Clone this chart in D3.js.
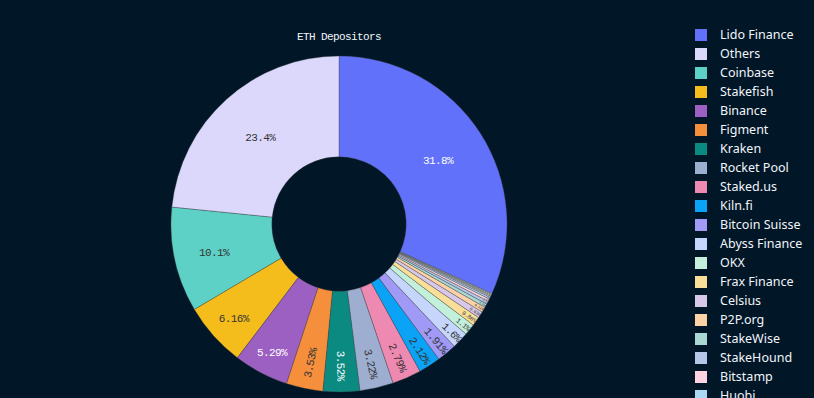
<!DOCTYPE html>
<html lang="en">
<head>
  <meta charset="UTF-8">
  <title>ETH Depositors</title>
  <script src="https://d3js.org/d3.v7.min.js"></script>
  <style>
    body {
      margin: 0;
      padding: 0;
      background-color: #011627;
    }
    .pct {
      font-family: "Liberation Mono", "DejaVu Sans Mono", monospace;
      font-size: 11px;
      letter-spacing: -0.6px;
    }
    .legend text {
      font-family: "Noto Sans", "Open Sans", sans-serif;
      font-size: 12.5px;
      fill: #f2f5fa;
    }
  </style>
</head>
<body>
  <script>
    // depositor share of ETH staked, in percent
    const labels = ["Lido Finance", "Others", "Coinbase", "Stakefish", "Binance", "Figment", "Kraken",
      "Rocket Pool", "Staked.us", "Kiln.fi", "Bitcoin Suisse", "Abyss Finance", "OKX", "Frax Finance",
      "Celsius", "P2P.org", "StakeWise", "StakeHound", "Bitstamp", "Huobi", "Ankr", "Stakin",
      "Blockdaemon", "Allnodes"];
    const values = [31.8, 23.4, 10.1, 6.16, 5.29, 3.53, 3.52, 3.22, 2.79, 2.12, 1.91, 1.6, 1.1, 0.86,
      0.63, 0.52, 0.35, 0.30, 0.24, 0.18, 0.12, 0.10, 0.09, 0.07];
    const colors = ["#6271fa", "#dcd8fc", "#5dd1c6", "#f5bd1c", "#9b60c1", "#f68f3c", "#0b8a82",
      "#9eaed0", "#ee89b1", "#0ba3f5", "#a099f6", "#c5d5fb", "#c2f0da", "#fadf98", "#d7c8e9",
      "#fdd2a7", "#aad9d4", "#b6c6e7", "#fdd4df", "#a9d8f2", "#e3d9f0", "#fbe8c8", "#c9eee2", "#d8e2f5"];
    const title = "ETH Depositors";

    const width = 814, height = 398;
    const cx = 339, cy = 224, R = 168, hole = 0.4;
    const ring = 1 - hole;
    const TEXTPAD = 3;

    const svg = d3.create("svg")
        .attr("width", width)
        .attr("height", height)
        .style("display", "block")
        .style("background", "#011627");

    const data = labels.map((l, i) => ({label: l, value: values[i], color: colors[i]}));
    const total = d3.sum(values);
    const fmt = d3.format(".3~p");

    // first slice ends at 12 o'clock, slices run counterclockwise
    const a0 = 2 * Math.PI * values[0] / total;
    const pie = d3.pie().sort(null).value(d => d.value)
        .startAngle(a0).endAngle(a0 - 2 * Math.PI);
    const arcs = pie(data);

    const arc = d3.arc().innerRadius(R * hole).outerRadius(R);

    const g = svg.append("g").attr("transform", `translate(${cx},${cy})`);

    g.selectAll("path")
      .data(arcs)
      .join("path")
        .attr("d", arc)
        .attr("fill", d => d.data.color)
        .attr("stroke", "#444")
        .attr("stroke-width", 0.35);

    // inside text placement, same idea as plotly's "auto" orientation
    function maxHalf(a, half, r) {
      const q = a + 1 / (2 * Math.tan(half));
      return r * Math.min(1 / (Math.sqrt(q * q + 0.5) + q), ring / (Math.sqrt(a * a + ring / 2) + a));
    }
    function norm(deg) {
      let r = ((deg % 180) + 180) % 180;
      return r >= 90 ? r - 180 : r;
    }

    const labelData = arcs.map(d => {
      const txt = fmt(d.data.value / total);
      const w = txt.length * 6, h = 15;
      const share = d.data.value / total;
      const half = Math.PI * Math.min(share, 0.5);
      let mid = (d.startAngle + d.endAngle) / 2;
      mid = ((mid % (2 * Math.PI)) + 2 * Math.PI) % (2 * Math.PI);
      const deg = mid * 180 / Math.PI;

      const ri = Math.min(1 / (1 + 1 / Math.sin(half)), (1 - hole) / 2);
      let t = {scale: ri * R * 2 / Math.sqrt(w * w + h * h), rc: 1 - ri, rot: 0};
      if (t.scale < 1) {
        const rr = R - 2 * TEXTPAD;
        const aR = w / h, sR = maxHalf(aR, half, rr);
        const rad = {scale: 2 * sR / h, rc: Math.cos(sR / rr) - aR * sR / rr, rot: norm(deg - 90)};
        const aT = h / w, sT = maxHalf(aT, half, rr);
        const tan = {scale: 2 * sT / w, rc: Math.cos(sT / rr) - aT * sT / rr, rot: norm(deg)};
        t = [t, rad, tan].reduce((m, c) => c.scale > m.scale ? c : m);
      }
      const c = d3.rgb(d.data.color);
      const bright = (c.r * 299 + c.g * 587 + c.b * 114) / 1000;
      return {
        txt,
        x: Math.sin(mid) * R * t.rc,
        y: -Math.cos(mid) * R * t.rc,
        rot: t.rot,
        scale: Math.min(1, t.scale),
        fill: bright < 128 && d.data.label !== "Kiln.fi" ? "#ffffff" : "#333333"
      };
    });

    g.append("g")
      .selectAll("text")
      .data(labelData)
      .join("text")
        .attr("class", "pct")
        .attr("transform", d => `translate(${d.x},${d.y}) rotate(${d.rot}) scale(${d.scale})`)
        .attr("text-anchor", "middle")
        .attr("dy", "0.36em")
        .attr("fill", d => d.fill)
        .text(d => d.txt);

    svg.append("text")
        .attr("class", "pct")
        .attr("x", cx)
        .attr("y", 40)
        .attr("text-anchor", "middle")
        .attr("fill", "#f2f5fa")
        .text(title);

    // legend
    const y = d3.scaleBand().domain(labels).range([25.5, 25.5 + 19 * labels.length]);
    const legend = svg.append("g").attr("class", "legend");
    const item = legend.selectAll("g")
      .data(data)
      .join("g")
        .attr("transform", d => `translate(695,${y(d.label) + y.bandwidth() / 2})`);
    item.append("rect")
        .attr("x", 0).attr("y", -6)
        .attr("width", 12).attr("height", 12)
        .attr("fill", d => d.color);
    item.append("text")
        .attr("x", 25)
        .attr("dy", "0.35em")
        .text(d => d.label);

    document.body.appendChild(svg.node());
  </script>
</body>
</html>
